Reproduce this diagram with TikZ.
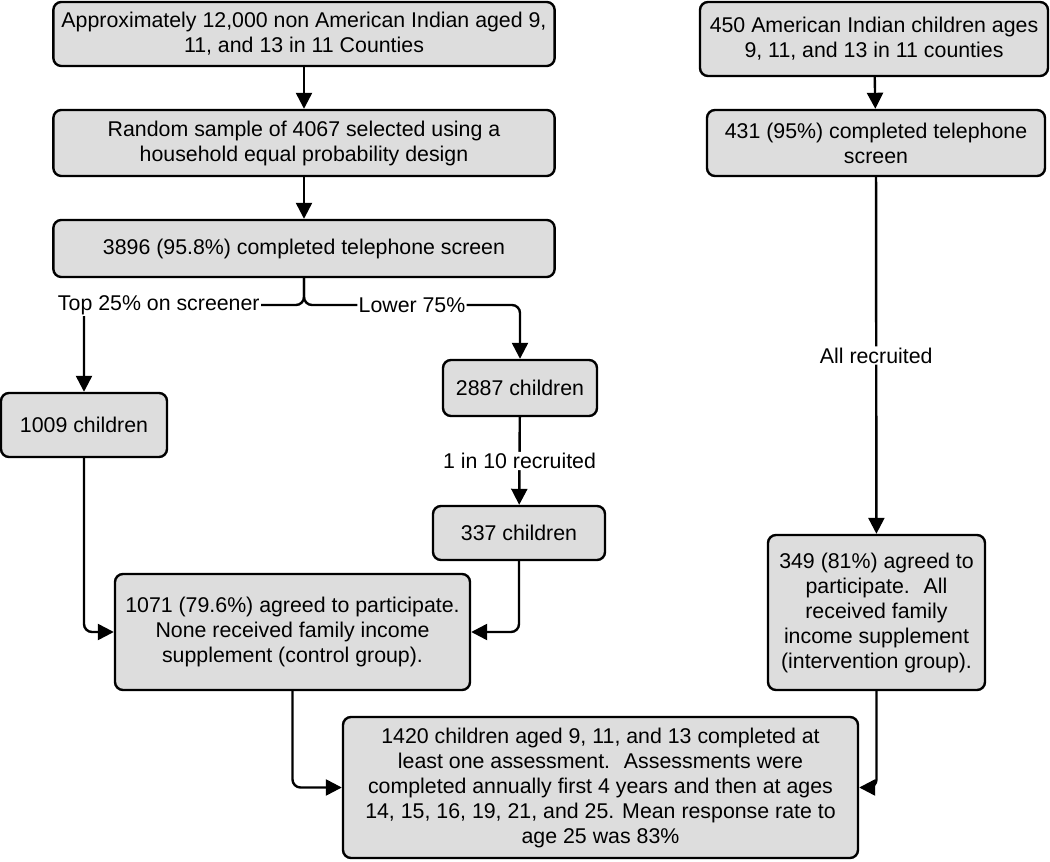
\documentclass[tikz,border=0pt]{standalone}
\usepackage{fontspec}
\setmainfont{Liberation Sans}
\usepackage{xcolor}
\usetikzlibrary{arrows.meta}
\definecolor{boxgray}{RGB}{221,221,221}

\begin{document}
\begin{tikzpicture}[x=0.75pt,y=-0.75pt,
	font=\fontsize{16}{18.75}\selectfont,
	box/.style={draw,line width=1.8pt,fill=boxgray,rounded corners=6pt,align=center,inner sep=2pt},
	arrow/.style={line width=1.8pt,-{Triangle[length=12pt,width=12pt]},rounded corners=6pt},
	lbl/.style={fill=white,inner sep=1pt}]
\useasboundingbox (0,0) rectangle (1050,862);
\node[box,minimum width=376pt,minimum height=48pt] (pop) at (304,34)
	{Approximately 12,000 non American Indian aged 9,\\11, and 13 in 11 Counties};
\node[box,minimum width=376pt,minimum height=49.5pt] (sample) at (304,143)
	{Random sample of 4067 selected using a\\household equal probability design};
\node[box,minimum width=376pt,minimum height=42.75pt] (screen) at (304,248.5)
	{3896 (95.8\%) completed telephone screen};
\node[box,minimum width=261pt,minimum height=55.5pt] (aipop) at (874,39)
	{450 American Indian children ages\\9, 11, and 13 in 11 counties};
\node[box,minimum width=253.5pt,minimum height=49.5pt] (aiscreen) at (876,143)
	{431 (95\%) completed telephone\\screen};
\node[box,minimum width=124.5pt,minimum height=48pt] (top) at (84,425)
	{1009 children};
\node[box,minimum width=115.5pt,minimum height=42pt] (lower) at (520,388)
	{2887 children};
\node[box,minimum width=129pt,minimum height=40.5pt] (recr) at (519,533)
	{337 children};
\node[box,minimum width=266.25pt,minimum height=87pt] (control) at (292.5,632)
	{1071 (79.6\%) agreed to participate.\\None received family income\\supplement (control group).};
\node[box,minimum width=162.75pt,minimum height=116.25pt] (interv) at (876.5,612.5)
	{349 (81\%) agreed to\\participate.~ All\\received family\\income supplement\\(intervention group).};
\node[box,minimum width=386.25pt,minimum height=105.75pt] (total) at (600.5,787.5)
	{1420 children aged 9, 11, and 13 completed at\\least one assessment.~ Assessments were\\completed annually first 4 years and then at ages\\14, 15, 16, 19, 21, and 25. Mean response rate to\\age 25 was 83\%};
\coordinate (split) at (304,305);
\draw[arrow] (pop) -- (sample);
\draw[arrow] (sample) -- (screen);
\draw[arrow] (screen) -- (split) -| node[pos=0.33,lbl]{Top 25\% on screener} (top);
\draw[arrow] (screen) -- (split) -| node[pos=0.25,lbl]{Lower 75\%} (lower);
\draw[arrow] (lower) -- node[lbl]{1 in 10 recruited} (recr);
\draw[arrow] (top) |- (control);
\draw[arrow] (recr) |- (control);
\draw[arrow] (control) |- (total);
\draw[arrow] (aipop) -- (aiscreen);
\draw[arrow] (aiscreen) -- node[lbl]{All recruited} (interv);
\draw[arrow] (interv) |- (total);
\end{tikzpicture}
\end{document}
